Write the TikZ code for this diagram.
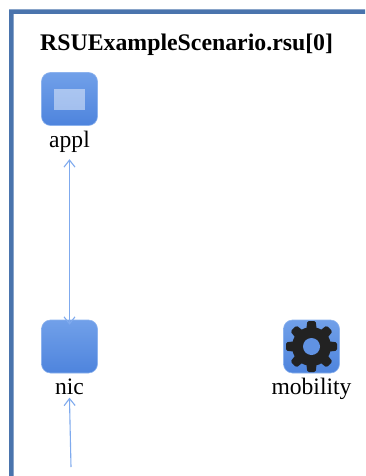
\documentclass[tikz,border=0pt]{standalone}
\usepackage{fontspec}
\setmainfont{Liberation Serif}
\usetikzlibrary{arrows.meta,positioning}
\definecolor{frameblue}{HTML}{4A74AD}
\definecolor{icontop}{HTML}{71A0E9}
\definecolor{iconbottom}{HTML}{4E84DD}
\definecolor{iconedge}{HTML}{8DB3EE}
\definecolor{linkblue}{HTML}{7FAAEE}
\definecolor{geardark}{HTML}{222222}
\tikzset{
        icon/.style={draw=iconedge, line width=.6pt, rounded corners=9pt, top color=icontop, bottom color=iconbottom, minimum width=56pt, minimum height=53pt, inner sep=0pt},
        caption/.style={font=\fontsize{23.6}{24}\selectfont, inner sep=0pt, text height=16pt, text depth=5pt},
        link/.style={draw=linkblue, line width=1.1pt, {Straight Barb[length=7pt,width=11pt]}-{Straight Barb[length=7pt,width=11pt]}},
        uplink/.style={draw=linkblue, line width=1.1pt, -{Straight Barb[length=7pt,width=11pt]}}
}
\begin{document}
\begin{tikzpicture}[x=1pt, y=-1pt]
        \useasboundingbox (0, 0) rectangle (365, 476);
        \fill[white] (0, 0) rectangle (365, 476);
        \fill[frameblue] (365, 9.5) -- (9, 9.5) -- (9, 476) -- (13.5, 476) -- (13.5, 14) -- (365, 14) -- cycle;

        \node[anchor=base west, inner sep=0pt, font=\fontsize{23.8}{24}\selectfont\bfseries] (title) at (40, 51) {RSUExampleScenario.rsu[0]};

        \node[icon] (appl) at (69.5, 99) {};
        \fill[white, opacity=.45] (54, 89) rectangle (84.5, 110);
        \node[caption, below=5pt of appl] (appllabel) {appl};

        \node[icon] (nic) at (69.5, 346.5) {};
        \node[caption, below=5pt of nic] (niclabel) {nic};

        \node[icon] (mobility) at (311.5, 346.5) {};
        \node[caption, below=5pt of mobility] (mobilitylabel) {mobility};

        % gear on the mobility icon
        \foreach \a in {0, 45, ..., 315}
                \fill[geardark, rounded corners=1.5pt, rotate around={\a:(mobility)}] ([xshift=-5.5pt, yshift=14pt]mobility.center) -- ([xshift=-4.2pt, yshift=25.5pt]mobility.center) -- ([xshift=4.2pt, yshift=25.5pt]mobility.center) -- ([xshift=5.5pt, yshift=14pt]mobility.center) -- cycle;
        \fill[geardark] (mobility) circle [radius=19.5pt];
        \fill[icontop!50!iconbottom] (mobility) circle [radius=8.5pt];

        \coordinate (feed) at (71, 467);
        \draw[link, shorten <=7pt, shorten >=-5pt] (appllabel.south) -- (nic.north);
        \draw[uplink, shorten >=-2pt] (feed) -- (niclabel.south);
\end{tikzpicture}
\end{document}
